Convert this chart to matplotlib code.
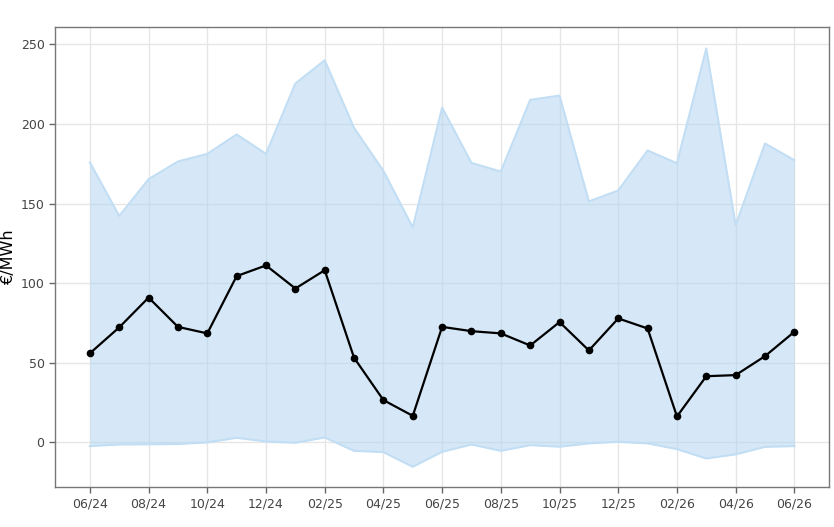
import numpy as np
import matplotlib.pyplot as plt

# monthly labels 06/24 .. 06/26
months = ['06/24', '07/24', '08/24', '09/24', '10/24', '11/24', '12/24',
          '01/25', '02/25', '03/25', '04/25', '05/25', '06/25', '07/25',
          '08/25', '09/25', '10/25', '11/25', '12/25', '01/26', '02/26',
          '03/26', '04/26', '05/26', '06/26']

price = [56.0, 72.3, 91.0, 72.6, 68.5, 104.5, 111.2, 96.7, 108.2, 53.2,
         26.6, 16.7, 72.6, 69.9, 68.5, 60.9, 75.6, 57.8, 77.9, 71.6,
         16.3, 41.6, 42.3, 54.2, 69.5]

upper = [175.9, 142.3, 165.4, 176.5, 181.3, 193.5, 181.3, 225.5, 240.1, 197.6,
         170.6, 135.1, 210.4, 175.6, 170.2, 215.2, 217.9, 151.4, 158.3, 183.4,
         175.4, 247.5, 136.5, 187.8, 177.3]

lower = [-2.3, -1.3, -1.2, -1.0, 0.0, 2.9, 0.6, -0.2, 3.1, -5.3,
         -6.1, -15.3, -5.9, -1.3, -5.3, -1.7, -2.7, -0.6, 0.4, -0.6,
         -4.2, -10.1, -7.5, -2.8, -2.3]

x = np.arange(len(months))

fig = plt.figure(figsize=(8.34, 5.27), dpi=100)
ax = fig.add_axes([0.0659, 0.0759, 0.9281, 0.8729])

ax.fill_between(x, lower, upper, color='#aed3f0', alpha=0.5, linewidth=0, zorder=2)
ax.plot(x, upper, color='#c2def4', linewidth=1.5, zorder=2)
ax.plot(x, lower, color='#c2def4', linewidth=1.5, zorder=2)
ax.plot(x, price, '-o', color='black', linewidth=1.6, markersize=4.5, zorder=3)

ax.set_xlim(-1.19, 25.18)
ax.set_ylim(-28, 261)
ax.set_xticks(x[::2])
ax.set_xticklabels(months[::2])
ax.set_yticks([0, 50, 100, 150, 200, 250])

ax.grid(True, color='#e6e6e6', linewidth=1, zorder=0)
ax.set_axisbelow(True)
ax.tick_params(axis='both', colors='#666666', labelcolor='#444444',
               labelsize=9, length=4, width=1)
for s in ax.spines.values():
    s.set_color('#777777')
    s.set_linewidth(1)

ax.set_ylabel('€/MWh', fontsize=11.5, color='black')
ax.yaxis.set_label_coords(-0.050, 0.5)

plt.savefig('out.png', dpi=100)
plt.close()
